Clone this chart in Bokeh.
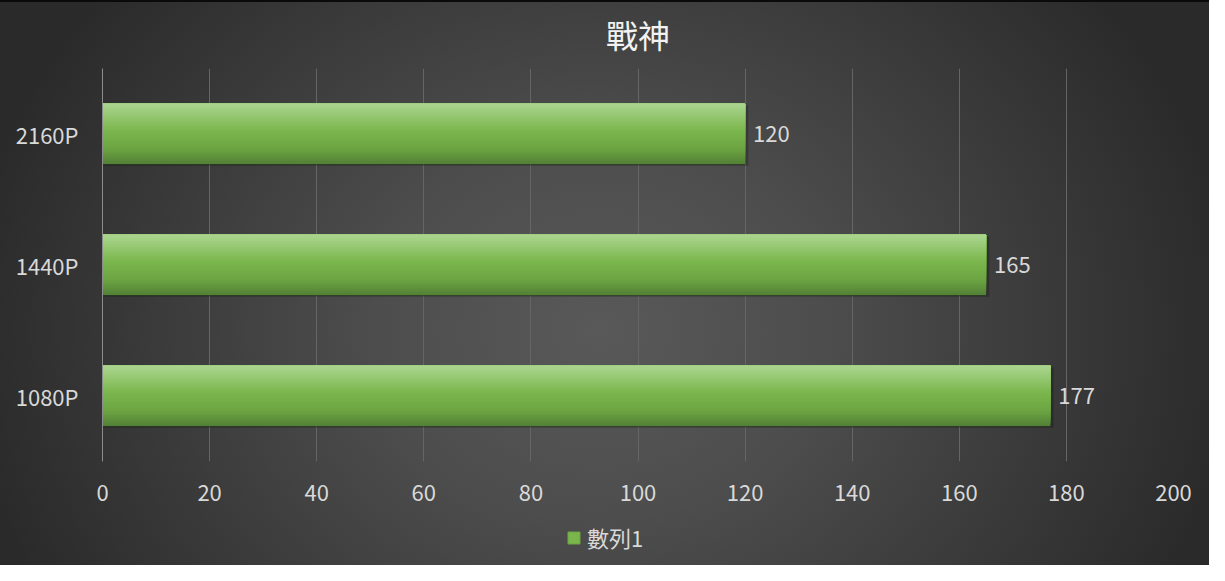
from bokeh.plotting import figure
from bokeh.models import FactorRange, Legend, LegendItem, ColumnDataSource, Range1d
from bokeh.layouts import column
from bokeh.transform import dodge
from bokeh.core.properties import value
from bokeh.embed import file_html
from bokeh.resources import INLINE

# ---- data ----
title_text = "戰神"
categories = ["1080P", "1440P", "2160P"]      # bottom -> top
fps_values = [177, 165, 120]
series_name = "數列1"
x_ticks = [0, 20, 40, 60, 80, 100, 120, 140, 160, 180, 200]

FONT = "Noto Sans CJK TC"
TXT = "#d9d9d9"
W = 1209
H1 = 510
H2 = 55
GCX, GCY = 600, 330

def bg(dy):
    return ("radial-gradient(ellipse 640px 540px at %dpx %dpx, #595959 0%%, #4d4d4d 35%%, #2a2a2a 100%%)"
            % (GCX, GCY - dy))

src = ColumnDataSource(dict(cat=categories, val=fps_values,
                            lab=[str(v) for v in fps_values]))

p = figure(width=W, height=H1, output_backend="svg", toolbar_location=None,
           y_range=FactorRange(factors=categories, range_padding=0),
           x_range=Range1d(0, 200),
           min_border_left=102, min_border_right=36, min_border_top=68, min_border_bottom=49)

p.styles = {"background": bg(0), "box-shadow": "inset 0 2px 0 0 #0a0a0a"}
p.background_fill_alpha = 0
p.border_fill_alpha = 0
p.outline_line_color = None

p.title.text = title_text
p.title.align = "center"
p.title.vertical_align = "top"
p.title.text_font = FONT
p.title.text_font_size = "32px"
p.title.text_font_style = "normal"
p.title.text_color = "#f2f2f2"
p.title.standoff = 19

# axes
xa = p.xaxis[0]
xa.ticker = x_ticks
xa.axis_line_color = None
xa.major_tick_line_color = None
xa.minor_tick_line_color = None
xa.major_tick_out = 0
xa.major_label_standoff = 23
xa.major_label_text_font = FONT
xa.major_label_text_font_size = "22px"
xa.major_label_text_color = TXT

ya = p.yaxis[0]
ya.axis_line_color = "#8c8c8c"
ya.major_tick_line_color = None
ya.minor_tick_line_color = None
ya.major_tick_out = 0
ya.major_label_standoff = 24
ya.major_label_text_font = FONT
ya.major_label_text_font_size = "22px"
ya.major_label_text_color = TXT

p.ygrid.grid_line_color = None
p.xgrid.grid_line_color = "#656565"
p.xgrid.grid_line_width = 1

# bar shadow
BAR_H = 0.46
src_sh = ColumnDataSource(dict(cat=categories, val=[v + 0.6 for v in fps_values]))
p.hbar(y=dodge("cat", -0.012, range=p.y_range), left=0, right="val", height=BAR_H,
       fill_color="#000000", fill_alpha=0.22, line_color=None, source=src_sh)
p.hbar(y=dodge("cat", -0.006, range=p.y_range), left=0, right="val", height=BAR_H,
       fill_color="#000000", fill_alpha=0.3, line_color=None, source=src)

# gradient bars: layers anchored at the top edge, painted from tallest to shortest
stops = [(0.0, (0xab, 0xd5, 0x8f)), (0.45, (0x7a, 0xb6, 0x4c)),
         (0.75, (0x6c, 0xa4, 0x42)), (1.0, (0x52, 0x80, 0x36))]

def grad(t):
    for (t0, c0), (t1, c1) in zip(stops[:-1], stops[1:]):
        if t <= t1:
            f = (t - t0) / (t1 - t0)
            return "#%02x%02x%02x" % tuple(int(round(a + (b - a) * f)) for a, b in zip(c0, c1))
    return "#%02x%02x%02x" % stops[-1][1]

N = 40
for k in range(N, 0, -1):
    frac = k / N                 # layer covers top `frac` of the bar
    hk = BAR_H * frac
    off = BAR_H / 2 - hk / 2
    c = grad((k - 0.5) / N)
    p.hbar(y=dodge("cat", off, range=p.y_range), left=0, right="val", height=hk,
           fill_color=c, line_color=None, source=src)

# data labels
p.text(x="val", y="cat", text="lab", source=src, x_offset=8, text_baseline="middle",
       text_align="left", text_font=value(FONT), text_font_size="22px", text_color=TXT)

# ---- legend strip (second figure sharing the background) ----
q = figure(width=W, height=H2, output_backend="svg", toolbar_location=None,
           x_axis_type=None, y_axis_type=None, min_border=0,
           x_range=Range1d(0, 1), y_range=Range1d(0, 1))
q.styles = {"background": bg(H1)}
q.background_fill_alpha = 0
q.border_fill_alpha = 0
q.outline_line_color = None
q.grid.grid_line_color = None
# hidden series renderer that only supplies the legend swatch
proxy = q.hbar(y="val", left=0, right="val", height=1, source=src,
               fill_color="#7ab64c", line_color="#6ca442", visible=False)

legend = Legend(items=[LegendItem(label=series_name, renderers=[proxy])],
                location=(462, 10), orientation="horizontal",
                glyph_width=15, glyph_height=15, label_standoff=6,
                label_text_font=FONT, label_text_font_size="22px", label_text_color=TXT,
                background_fill_alpha=0, border_line_alpha=0, padding=2, margin=0)
q.add_layout(legend, "center")

layout = column(p, q, spacing=0)
open("out.html", "w").write(file_html(layout, INLINE))
